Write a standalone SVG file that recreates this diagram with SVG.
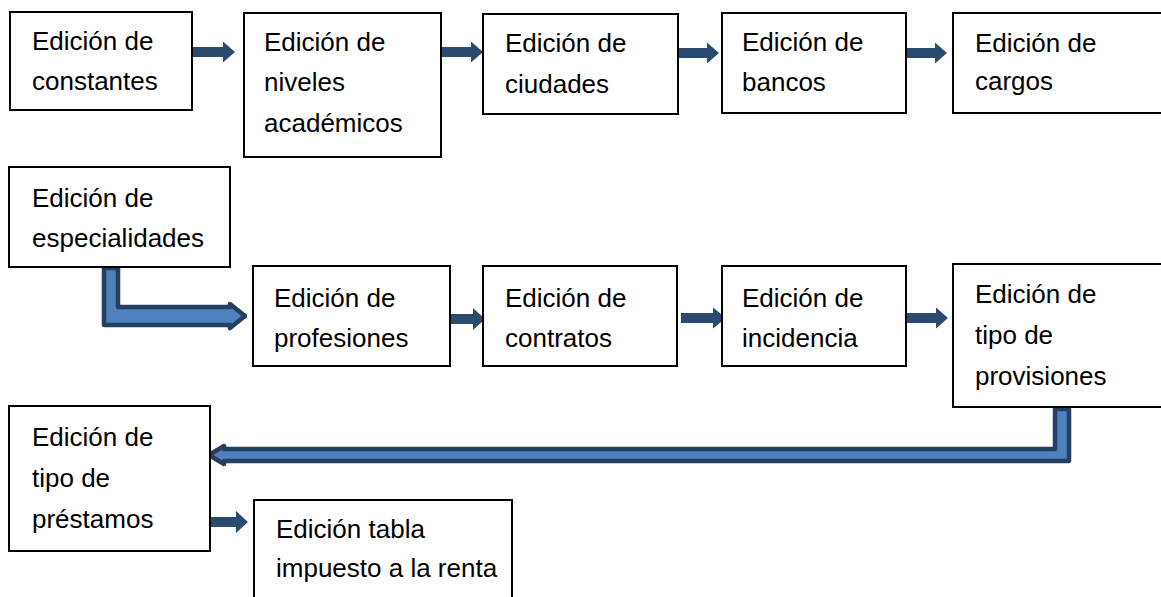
<svg xmlns="http://www.w3.org/2000/svg" width="1161" height="597" viewBox="0 0 1161 597">
<style>
.box{fill:#fff;stroke:#000;stroke-width:2}
.t{font-family:"Liberation Sans",Arial,sans-serif;font-size:26px;fill:#000}
.sa{fill:#2b4a6f}
.ba{fill:#4f81bd;stroke:#243f60;stroke-width:4.5;stroke-linejoin:round}
</style>
<defs>
<path id="sarrow" d="M0,-5 H31 V-10.5 L43,0 L31,10.5 V5 H0 Z"/>
</defs>
<rect width="1161" height="597" fill="#fff"/>
<g id="connectors">
<use href="#sarrow" class="sa" x="192" y="52"/>
<use href="#sarrow" class="sa" x="440" y="52"/>
<use href="#sarrow" class="sa" x="676" y="53"/>
<use href="#sarrow" class="sa" x="904" y="53"/>
<path d="M447,314 H473 V308 L485,319 L473,330 V324 H447 Z" class="sa"/>
<path d="M681,313 H713 V307.5 L726,318 L713,328.5 V323 H681 Z" class="sa"/>
<path d="M903,313 H936 V307.5 L948,318 L936,328.5 V323 H903 Z" class="sa"/>
<path d="M210,517 H236 V511 L248,522 L236,533 V527 H210 Z" class="sa"/>
<path class="ba" d="M104,268 H118 V307 H230 V304 L245,316 L230,328 V325 H104 Z"/>
<path class="ba" d="M1055,409 H1069 V461 H224 V464 L209,455 L224,446 V449 H1055 Z"/>
</g>
<g id="n1"><rect class="box" x="10" y="12" width="182" height="98"/><text class="t" x="32" y="50">Edición de</text><text class="t" x="32" y="90">constantes</text></g>
<g id="n2"><rect class="box" x="244" y="13" width="197" height="144"/><text class="t" x="264" y="51">Edición de</text><text class="t" x="264" y="91">niveles</text><text class="t" x="264" y="132">académicos</text></g>
<g id="n3"><rect class="box" x="483" y="14" width="195" height="100"/><text class="t" x="505" y="52">Edición de</text><text class="t" x="505" y="93">ciudades</text></g>
<g id="n4"><rect class="box" x="722" y="13" width="184" height="100"/><text class="t" x="742" y="51">Edición de</text><text class="t" x="742" y="91">bancos</text></g>
<g id="n5"><rect class="box" x="953" y="13" width="210" height="100"/><text class="t" x="975" y="52">Edición de</text><text class="t" x="975" y="90">cargos</text></g>
<g id="n6"><rect class="box" x="9" y="167" width="221" height="100"/><text class="t" x="32" y="207">Edición de</text><text class="t" x="32" y="247">especialidades</text></g>
<g id="n7"><rect class="box" x="253" y="266" width="197" height="100"/><text class="t" x="274" y="307">Edición de</text><text class="t" x="274" y="347">profesiones</text></g>
<g id="n8"><rect class="box" x="483" y="266" width="194" height="100"/><text class="t" x="505" y="307">Edición de</text><text class="t" x="505" y="347">contratos</text></g>
<g id="n9"><rect class="box" x="722" y="266" width="184" height="100"/><text class="t" x="742" y="307">Edición de</text><text class="t" x="742" y="347">incidencia</text></g>
<g id="n10"><rect class="box" x="953" y="264" width="210" height="143"/><text class="t" x="975" y="303">Edición de</text><text class="t" x="975" y="344">tipo de</text><text class="t" x="975" y="385">provisiones</text></g>
<g id="n11"><rect class="box" x="9" y="406" width="201" height="145"/><text class="t" x="32" y="446">Edición de</text><text class="t" x="32" y="487">tipo de</text><text class="t" x="32" y="528">préstamos</text></g>
<g id="n12"><rect class="box" x="254" y="500" width="258" height="100"/><text class="t" x="276" y="538">Edición tabla</text><text class="t" x="276" y="577">impuesto a la renta</text></g>
</svg>
